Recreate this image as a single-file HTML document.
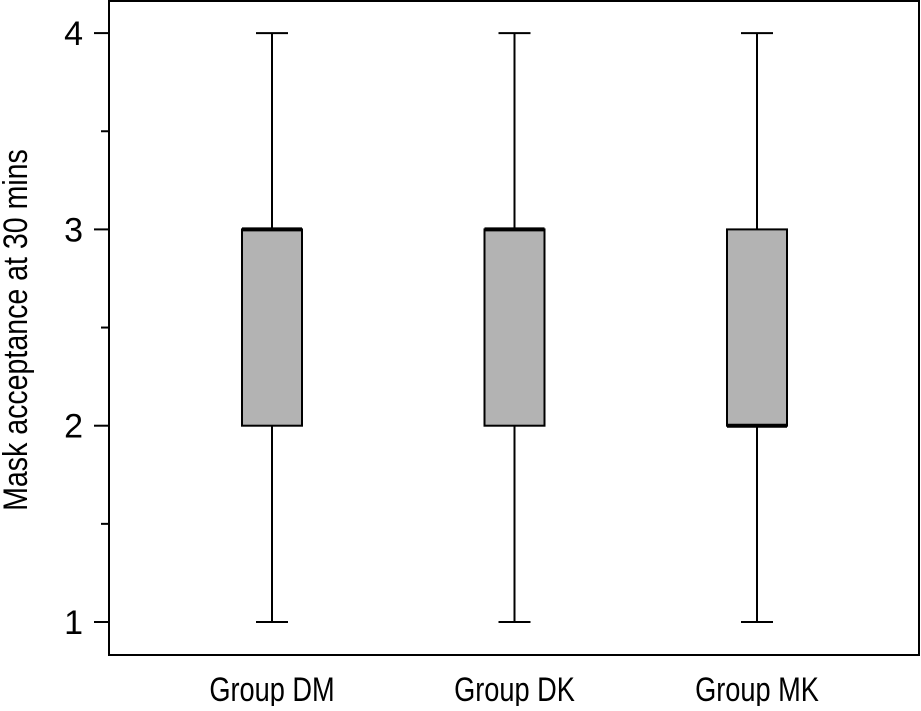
<!DOCTYPE html>
<html><head><style>
body{margin:0;background:#fff}
svg text{font-family:"Liberation Sans",sans-serif;fill:#000}
</style></head><body>
<svg width="921" height="706" id="chart">
<rect x="109" y="1" width="810" height="654" fill="none" stroke="#000" stroke-width="2"/>
<text transform="translate(27,330) rotate(-90) scale(0.84,1)" text-anchor="middle" font-size="34">Mask acceptance at 30 mins</text>
</svg>
<script>
const categories=["Group DM","Group DK","Group MK"];
const mins=[1,1,1];
const q1s=[2,2,2];
const medians=[3,3,2];
const q3s=[3,3,3];
const maxs=[4,4,4];
const majorTicks=[1,2,3,4];
const minorTicks=[1.5,2.5,3.5];
const svg=document.getElementById('chart');
const NS='http://www.w3.org/2000/svg';
const y=v=>622-(v-1)*196.3;
const xc=i=>272+i*242.5;
function mk(t,a){const e=document.createElementNS(NS,t);for(const k in a)e.setAttribute(k,a[k]);svg.appendChild(e);return e;}
majorTicks.forEach(v=>{
 const l=mk('line',{x1:94,x2:109,y1:y(v),y2:y(v),stroke:'#000','stroke-width':2});
 
 
 const t=mk('text',{x:83,y:y(v)+12,'text-anchor':'end','font-size':34});
 t.textContent=v;
 
 
});
minorTicks.forEach(v=>{
 const l=mk('line',{x1:101,x2:109,y1:y(v),y2:y(v),stroke:'#000','stroke-width':2});
 
 
});
categories.forEach((c,i)=>{
 const x=xc(i);
 const w1=mk('line',{x1:x,x2:x,y1:y(maxs[i]),y2:y(q3s[i]),stroke:'#000','stroke-width':2});
 
 
 const w2=mk('line',{x1:x,x2:x,y1:y(q1s[i]),y2:y(mins[i]),stroke:'#000','stroke-width':2});
 
 
 [maxs[i],mins[i]].forEach(v=>{
  const cap=mk('line',{x1:x-16,x2:x+16,y1:y(v),y2:y(v),stroke:'#000','stroke-width':2});
  
  
 });
 const b=mk('rect',{x:x-30,y:y(q3s[i]),width:60,height:y(q1s[i])-y(q3s[i]),fill:'#b3b3b3',stroke:'#000','stroke-width':2});
 
 
 const m=mk('line',{x1:x-30,x2:x+30,y1:y(medians[i]),y2:y(medians[i]),stroke:'#000','stroke-width':4});
 
 
 const t=mk('text',{x:0,y:0,'text-anchor':'middle','font-size':34,transform:`translate(${x},701) scale(0.8,1)`});
 t.textContent=c;
 
 
});
</script>
</body></html>
